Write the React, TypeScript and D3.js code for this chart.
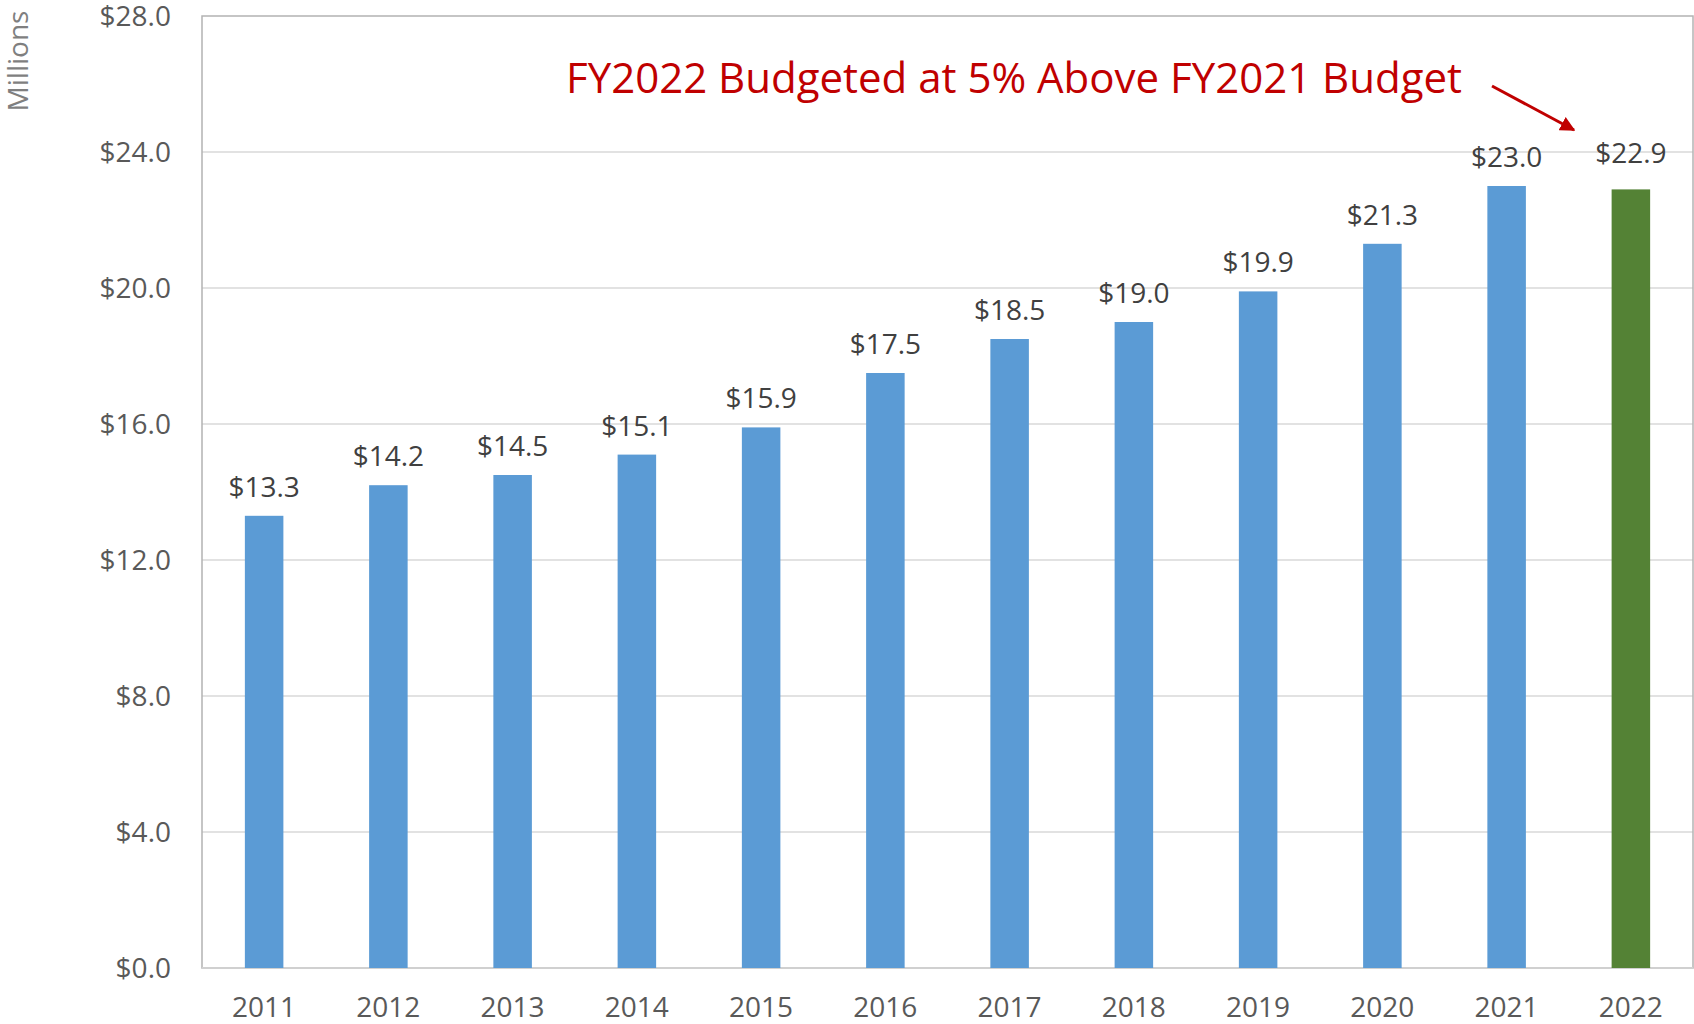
import React from "react";
import * as d3 from "d3";

const years = ["2011","2012","2013","2014","2015","2016","2017","2018","2019","2020","2021","2022"];
const values = [13.3, 14.2, 14.5, 15.1, 15.9, 17.5, 18.5, 19.0, 19.9, 21.3, 23.0, 22.9];
const yTicks = [0, 4, 8, 12, 16, 20, 24, 28];
const budgetedYear = "2022";
const annotation = "FY2022 Budgeted at 5% Above FY2021 Budget";
const axisTitle = "Millions";

const W = 1694, H = 1024;
const left = 202, right = 1693, top = 16, bottom = 968;
const font = "'Open Sans', 'Noto Sans', sans-serif";

export default function App() {
  const x = d3.scaleBand<string>().domain(years).range([left, right]).paddingInner(0.69).paddingOuter(0.345);
  const y = d3.scaleLinear().domain([0, 28]).range([bottom, top]);
  const fmt = (v: number) => "$" + d3.format(".1f")(v);
  return (
    <svg width={W} height={H} style={{ position: "absolute", left: 0, top: 0, display: "block", background: "#fff" }}>
      <defs>
        <marker id="ah" viewBox="0 0 10 10" refX="9" refY="5" markerWidth="5" markerHeight="5" orient="auto">
          <path d="M0,0 L10,5 L0,10 z" fill="#C00000" />
        </marker>
      </defs>
      {yTicks.filter(t => t > 0 && t < 28).map(t => (
        <line key={t} x1={left} x2={right} y1={y(t)} y2={y(t)} stroke="#d9d9d9" strokeWidth={1.5} />
      ))}
      <rect x={left} y={y(28)} width={right - left} height={y(0) - y(28)} fill="none" stroke="#b3b3b3" strokeWidth={1.5} />
      <line x1={left} x2={right} y1={y(0)} y2={y(0)} stroke="#d0d0d0" strokeWidth={2} />
      {yTicks.map(t => (
        <text key={t} x={171} y={y(t) + 10} textAnchor="end" fontFamily={font} fontSize={28} fill="#595959">{fmt(t)}</text>
      ))}
      {years.map((yr, i) => (
        <g key={yr}>
          <rect x={x(yr)} y={y(values[i])} width={x.bandwidth()} height={y(0) - y(values[i])}
            fill={yr === budgetedYear ? "#548235" : "#5B9BD5"} />
          <text x={(x(yr) as number) + x.bandwidth() / 2} y={y(values[i]) - (yr === budgetedYear ? 26 : 19)} textAnchor="middle"
            fontFamily={font} fontSize={28} fill="#404040">{fmt(values[i])}</text>
          <text x={(x(yr) as number) + x.bandwidth() / 2} y={1017} textAnchor="middle"
            fontFamily={font} fontSize={28} fill="#595959">{yr}</text>
        </g>
      ))}
      <text transform="translate(28,61) rotate(-90)" textAnchor="middle" fontFamily={font} fontSize={28} fill="#7f7f7f">{axisTitle}</text>
      <text x={566} y={93} fontFamily={font} fontSize={42} fill="#C00000" textLength={896} lengthAdjust="spacingAndGlyphs">{annotation}</text>
      <line x1={1492} y1={86} x2={1574} y2={130} stroke="#C00000" strokeWidth={3} markerEnd="url(#ah)" />
    </svg>
  );
}
